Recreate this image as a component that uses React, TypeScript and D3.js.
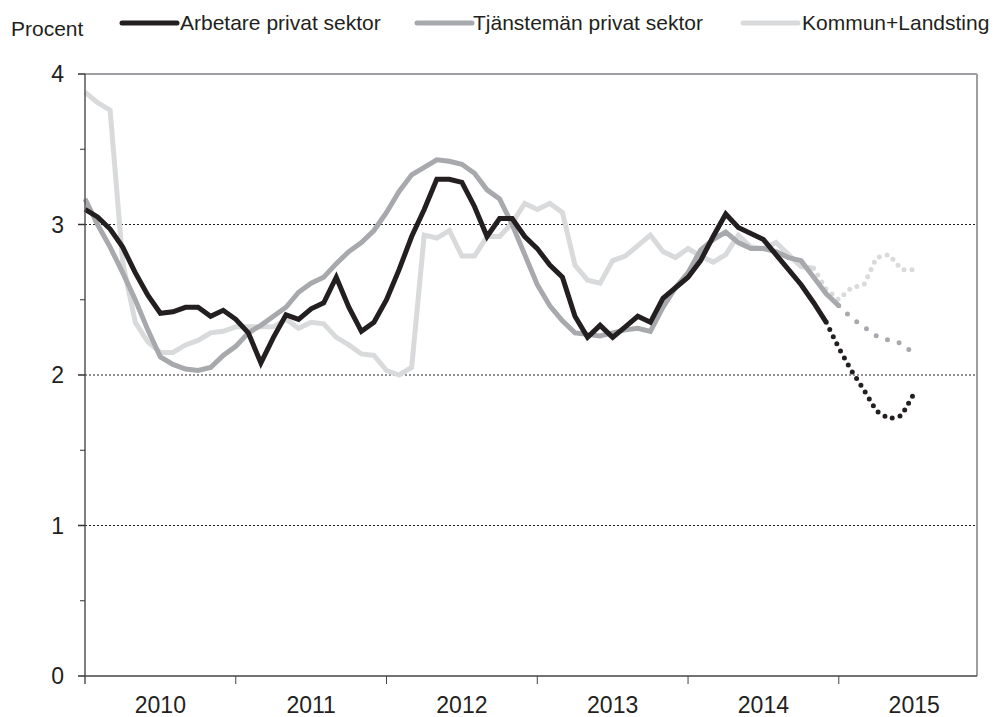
import React from 'react';
import * as d3 from 'd3';

// Månadsdata, jan 2010 = index 0
const arbetare = [
  3.10, 3.05, 2.97, 2.85, 2.68, 2.53, 2.41, 2.42, 2.45, 2.45, 2.39, 2.43,
  2.37, 2.28, 2.08, 2.25, 2.40, 2.37, 2.44, 2.48, 2.65, 2.45, 2.29, 2.35,
  2.50, 2.70, 2.92, 3.10, 3.30, 3.30, 3.28, 3.12, 2.92, 3.04, 3.04, 2.92,
  2.84, 2.73, 2.65, 2.39, 2.25, 2.33, 2.25, 2.32, 2.39, 2.35, 2.51, 2.58,
  2.65, 2.76, 2.92, 3.07, 2.98, 2.94, 2.90, 2.80, 2.70, 2.60, 2.48, 2.35,
];
const arbetarePrognos = [2.35, 2.18, 2.03, 1.90, 1.76, 1.71, 1.73, 1.88]; // från index 59

const tjansteman = [
  3.17, 3.00, 2.85, 2.68, 2.50, 2.30, 2.12, 2.07, 2.04, 2.03, 2.05, 2.13,
  2.19, 2.28, 2.33, 2.39, 2.45, 2.55, 2.61, 2.65, 2.74, 2.82, 2.88, 2.96,
  3.08, 3.22, 3.33, 3.38, 3.43, 3.42, 3.40, 3.34, 3.23, 3.17, 3.00, 2.80,
  2.60, 2.46, 2.36, 2.28, 2.27, 2.26, 2.28, 2.30, 2.31, 2.29, 2.45, 2.58,
  2.68, 2.83, 2.90, 2.95, 2.88, 2.84, 2.84, 2.82, 2.78, 2.76, 2.65, 2.54,
  2.46,
];
const tjanstemanPrognos = [2.46, 2.38, 2.32, 2.26, 2.23, 2.21, 2.14]; // från index 60

const kommun = [
  3.88, 3.81, 3.76, 2.75, 2.35, 2.22, 2.15, 2.15, 2.20, 2.23, 2.28, 2.29,
  2.32, 2.32, 2.32, 2.32, 2.37, 2.31, 2.35, 2.34, 2.25, 2.20, 2.14, 2.13,
  2.03, 2.00, 2.05, 2.93, 2.91, 2.96, 2.79, 2.79, 2.92, 2.92, 3.01, 3.14,
  3.10, 3.14, 3.08, 2.73, 2.63, 2.61, 2.76, 2.79, 2.86, 2.93, 2.82, 2.78,
  2.84, 2.79, 2.75, 2.80, 2.93, 2.85, 2.84, 2.88, 2.80, 2.72, 2.71,
];
const kommunPrognos = [2.71, 2.57, 2.50, 2.58, 2.60, 2.78, 2.80, 2.70, 2.70]; // från index 58

const years = ['2010', '2011', '2012', '2013', '2014', '2015'];
const yTicks = [0, 1, 2, 3, 4];
const yMinor = [0.5, 1.5, 2.5, 3.5];

const BLACK = '#231f20';
const GRAY = '#a7a9ac';
const LIGHT = '#d9dadb';
const FONT = 'Liberation Sans, Arial, sans-serif';

export default function App() {
  const width = 995;
  const height = 717;
  const left = 85;
  const right = 977;
  const top = 74;
  const bottom = 676;

  const x = d3.scaleLinear().domain([0, 71]).range([left, right]);
  const y = d3.scaleLinear().domain([0, 4]).range([bottom, top]);

  const line = (offset: number) =>
    d3.line<number>()
      .x((_, i) => x(i + offset))
      .y(d => y(d));

  const series = [
    { data: kommun, prog: kommunPrognos, start: 58, color: LIGHT, dash: '0 8' },
    { data: tjansteman, prog: tjanstemanPrognos, start: 60, color: GRAY, dash: '0 12' },
    { data: arbetare, prog: arbetarePrognos, start: 59, color: BLACK, dash: '0 8' },
  ];

  const legend = [
    { label: 'Arbetare privat sektor', color: BLACK, x0: 122, tx: 180 },
    { label: 'Tjänstemän privat sektor', color: GRAY, x0: 417, tx: 473 },
    { label: 'Kommun+Landsting', color: LIGHT, x0: 743, tx: 802 },
  ];

  return (
    <svg
      width={width}
      height={height}
      style={{ position: 'absolute', left: 0, top: 0, background: '#fff' }}
      fontFamily={FONT}
    >
      <text x={11} y={36} fontSize={21} fill="#231f20">Procent</text>
      {legend.map(l => (
        <g key={l.label}>
          <line x1={l.x0} x2={l.x0 + 55} y1={23} y2={23} stroke={l.color} strokeWidth={5} strokeLinecap="round" />
          <text x={l.tx} y={30} fontSize={21} fill="#231f20">{l.label}</text>
        </g>
      ))}

      {/* gridlines */}
      {[1, 2, 3].map(t => (
        <line key={t} x1={left} x2={right} y1={y(t)} y2={y(t)} stroke="#231f20" strokeWidth={1} strokeDasharray="2 2" />
      ))}

      {/* frame top/right */}
      <line x1={left} x2={right} y1={top} y2={top} stroke="#9d9fa2" strokeWidth={2} />
      <line x1={right} x2={right} y1={top} y2={bottom} stroke="#9d9fa2" strokeWidth={2} />

      {/* series */}
      {series.map((s, k) => (
        <g key={k}>
          <path d={line(0)(s.data) || ''} fill="none" stroke={s.color} strokeWidth={5} strokeLinejoin="miter" />
          <path
            d={line(s.start)(s.prog) || ''}
            fill="none"
            stroke={s.color}
            strokeWidth={5}
            strokeLinecap="round"
            strokeDasharray={s.dash}
          />
        </g>
      ))}

      {/* y axis */}
      <line x1={left} x2={left} y1={top} y2={bottom + 8} stroke="#555" strokeWidth={1.5} />
      {yTicks.map(t => (
        <g key={t}>
          <line x1={left - 7} x2={left} y1={y(t)} y2={y(t)} stroke="#333" strokeWidth={1.5} />
          <text x={64} y={y(t)} dy="0.36em" textAnchor="end" fontSize={23} fill="#231f20">{t}</text>
        </g>
      ))}
      {yMinor.map(t => (
        <line key={t} x1={left - 5} x2={left} y1={y(t)} y2={y(t)} stroke="#333" strokeWidth={1} />
      ))}

      {/* x axis */}
      <line x1={left} x2={right} y1={bottom} y2={bottom} stroke="#444" strokeWidth={1.5} />
      {years.map((yr, i) => (
        <g key={yr}>
          {i > 0 && <line x1={x(i * 12)} x2={x(i * 12)} y1={bottom} y2={bottom + 8} stroke="#444" strokeWidth={1} />}
          <text x={x(i * 12 + 6)} y={713} textAnchor="middle" fontSize={23} fill="#231f20">{yr}</text>
        </g>
      ))}
    </svg>
  );
}
